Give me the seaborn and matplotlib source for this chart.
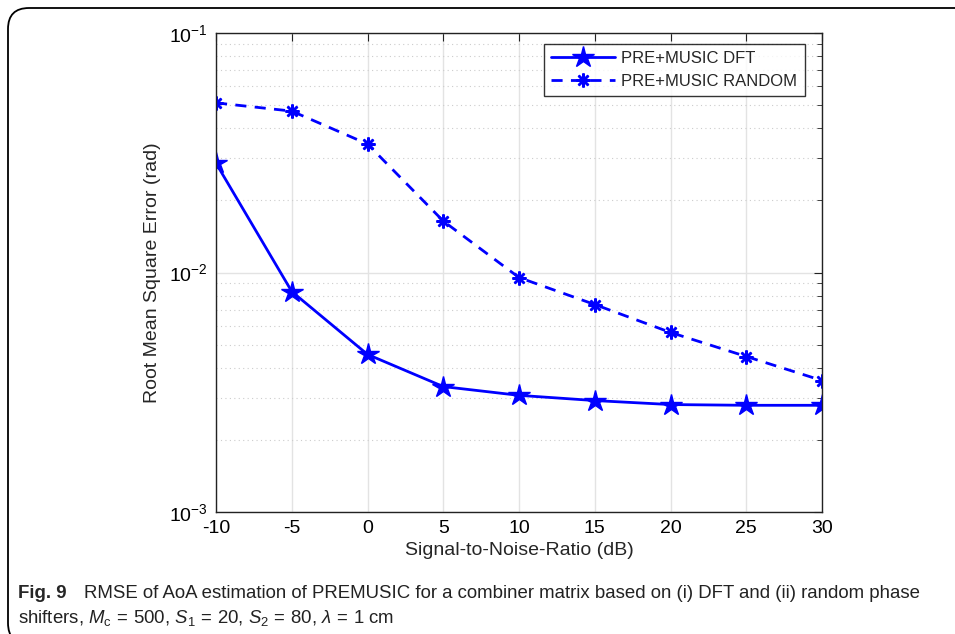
import numpy as np
import pandas as pd
import matplotlib
matplotlib.use('Agg')
import matplotlib.pyplot as plt
from matplotlib import font_manager
from matplotlib.patches import FancyBboxPatch
from matplotlib.ticker import LogLocator, NullFormatter
import seaborn as sns

sns.set_style('white')
plt.rcParams['font.family'] = ['Liberation Sans', 'DejaVu Sans']
plt.rcParams['mathtext.fontset'] = 'custom'
plt.rcParams['mathtext.rm'] = 'Liberation Sans'
plt.rcParams['mathtext.it'] = 'Liberation Sans:italic'

snr = [-10, -5, 0, 5, 10, 15, 20, 25, 30]
rmse_dft = [0.0286, 0.00833, 0.00455, 0.00334, 0.00307, 0.00292, 0.00281, 0.00279, 0.00279]
rmse_random = [0.0511, 0.0472, 0.0344, 0.0164, 0.00953, 0.00735, 0.00562, 0.00446, 0.00354]
x_ticks = [-10, -5, 0, 5, 10, 15, 20, 25, 30]
x_labels = ['-10', '-5', '0', '5', '10', '15', '20', '25', '30']
y_ticks = [1e-3, 1e-2, 1e-1]
y_labels = [r'10$^{\mathrm{-3}}$', r'10$^{\mathrm{-2}}$', r'10$^{\mathrm{-1}}$']

df = pd.DataFrame({'snr': snr, 'dft': rmse_dft, 'random': rmse_random})

fig = plt.figure(figsize=(9.55, 6.34), dpi=100)
ax = fig.add_axes([0.2262, 0.1924, 0.6346, 0.7555])

sns.lineplot(data=df, x='snr', y='dft', ax=ax, color='blue', lw=2,
             marker='*', markersize=16, markeredgewidth=1,
             markeredgecolor='blue', label='PRE+MUSIC DFT')
sns.lineplot(data=df, x='snr', y='random', ax=ax, color='blue', lw=2,
             linestyle=(0, (4, 3)), marker=(8, 2, 0), markersize=10,
             markeredgewidth=1.8, markeredgecolor='blue',
             label='PRE+MUSIC RANDOM')

ax.set_yscale('log')
ax.set_xlim(-10, 30)
ax.set_ylim(1e-3, 1e-1)
ax.set_xticks(x_ticks)
ax.set_xticklabels(x_labels)
ax.set_yticks(y_ticks)
ax.set_yticklabels(y_labels)
ax.yaxis.set_minor_locator(LogLocator(base=10, subs=np.arange(2, 10), numticks=20))
ax.yaxis.set_minor_formatter(NullFormatter())

ax.grid(True, which='major', color='#e3e3e3', lw=1, ls='-')
ax.grid(True, which='minor', axis='y', color='#cccccc', lw=0.8, ls=(0, (1, 3)))
ax.set_axisbelow(True)
for s in ax.spines.values():
    s.set_color('#222222')
    s.set_linewidth(1.0)
    s.set_visible(True)
ax.tick_params(which='both', direction='in', top=True, right=True,
               labelsize=14, colors='#222222', labelcolor='black')
ax.tick_params(which='major', length=6, pad=6)
ax.tick_params(which='minor', length=3.5)

ax.set_xlabel('Signal-to-Noise-Ratio (dB)', fontsize=14, labelpad=3)
ax.set_ylabel('Root Mean Square Error (rad)', fontsize=14, labelpad=6)

leg = ax.legend(loc='upper right', bbox_to_anchor=(0.98, 0.988), fontsize=12,
                frameon=True, fancybox=False, edgecolor='black',
                handlelength=3.8, borderpad=0.45, labelspacing=0.45,
                handletextpad=0.4, borderaxespad=0.3)
leg.get_frame().set_linewidth(1.0)

# outer frame
W, H = 955, 634
frame = FancyBboxPatch((8 / W, -10 / H), 1.2, (H - 8 + 10) / H,
                       boxstyle='round,pad=0,rounding_size=0.022',
                       transform=fig.transFigure, fill=False,
                       edgecolor='black', lw=1.3, mutation_aspect=W / H)
fig.patches.append(frame)

# caption: use a condensed face if one is installed
names = {f.name for f in font_manager.fontManager.ttflist}
if 'DejaVu Sans Condensed' in names:
    cap_font, cap_size = ['DejaVu Sans Condensed'], 13.5
elif 'Liberation Sans Narrow' in names:
    cap_font, cap_size = ['Liberation Sans Narrow'], 14.5
else:
    cap_font, cap_size = ['Liberation Sans', 'DejaVu Sans'], 13.4

fig.text(18 / W, 1 - 593 / H, 'Fig. 9', fontsize=cap_size, fontweight='bold',
         family=cap_font, va='center', ha='left')
fig.text(84 / W, 1 - 593 / H,
         'RMSE of AoA estimation of PREMUSIC for a combiner matrix based on (i) DFT and (ii) random phase',
         fontsize=cap_size, family=cap_font, va='center', ha='left', color='#222222')
fig.text(18 / W, 1 - 618 / H,
         r'shifters, $M_\mathrm{c}\,=\,500$, $S_1\,=\,20$, $S_2\,=\,80$, $\lambda\,=\,1$ cm',
         fontsize=cap_size, family=cap_font, va='center', ha='left', color='#222222')

fig.savefig('out.png', dpi=100)
